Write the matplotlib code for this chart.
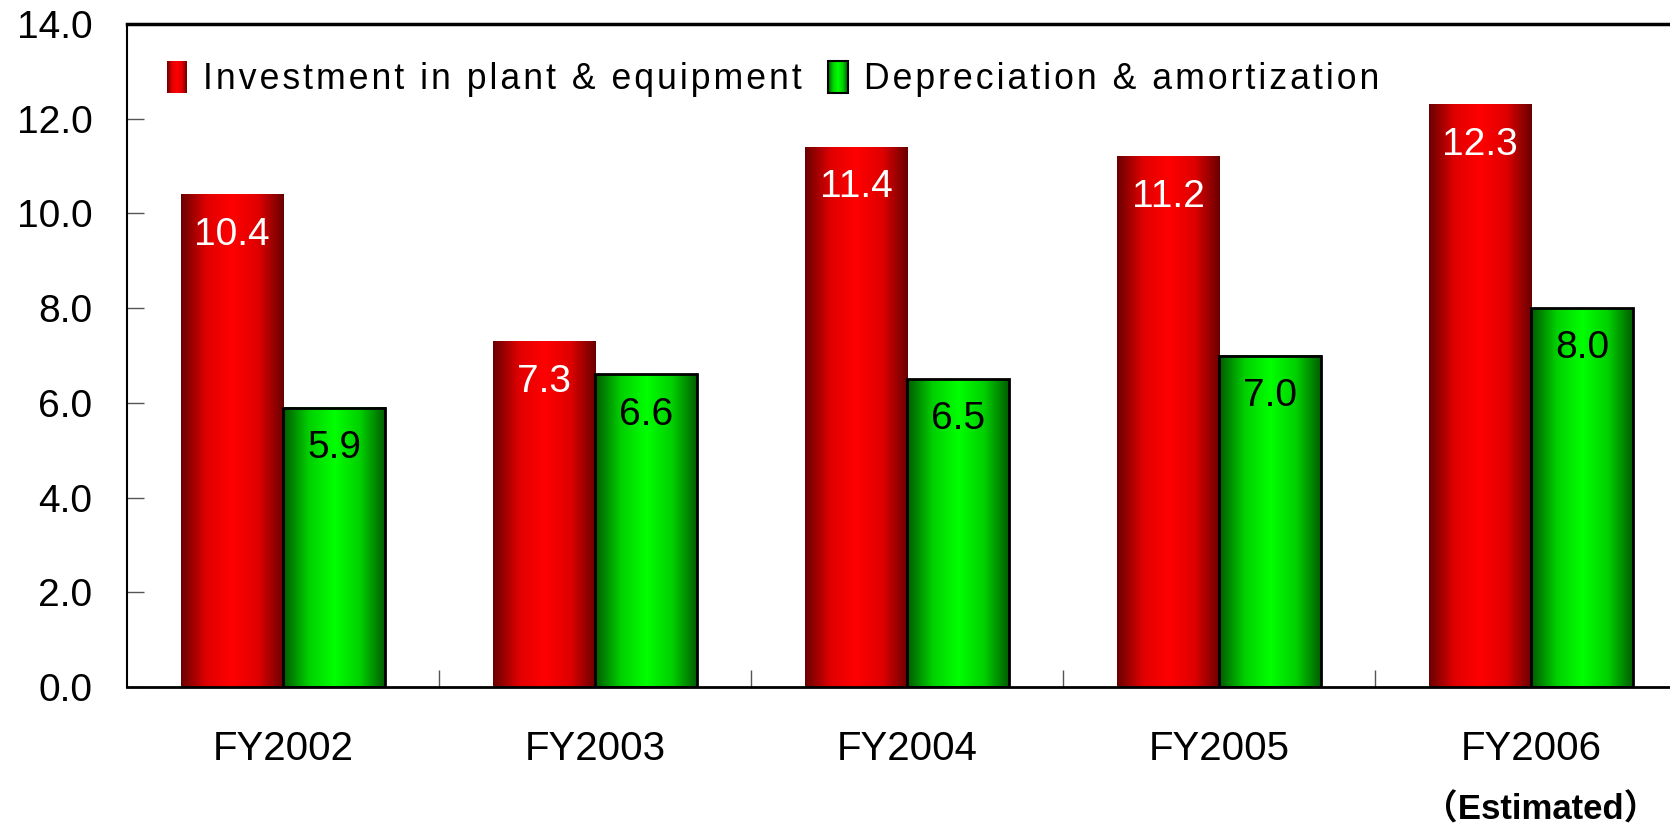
import numpy as np
import matplotlib
matplotlib.use("Agg")
import matplotlib.pyplot as plt
from matplotlib.colors import LinearSegmentedColormap
from matplotlib.legend_handler import HandlerBase
from matplotlib.image import BboxImage
from matplotlib.transforms import Bbox, TransformedBbox
from matplotlib.patches import Rectangle

plt.rcParams['font.family'] = ['Liberation Sans', 'Noto Sans CJK JP', 'DejaVu Sans']

years = ['FY2002', 'FY2003', 'FY2004', 'FY2005', 'FY2006']
invest = [10.4, 7.3, 11.4, 11.2, 12.3]
deprec = [5.9, 6.6, 6.5, 7.0, 8.0]
yticks = [0, 2, 4, 6, 8, 10, 12, 14]
series = ['Investment in plant & equipment', 'Depreciation & amortization']

red_cm = LinearSegmentedColormap.from_list('r', ['#6a0000', '#e00000', '#ff0000', '#e00000', '#6a0000'])
grn_cm = LinearSegmentedColormap.from_list('g', ['#005a00', '#00d000', '#00ff00', '#00d000', '#005a00'])
grad = np.linspace(0, 1, 256).reshape(1, -1)

fig = plt.figure(figsize=(16.7, 8.26), dpi=100)
ax = fig.add_axes([127/1670, 1 - 687/826, (1670 - 127)/1670, (687 - 24)/826])

x = np.arange(len(years))
w = 0.327
bars_r = ax.bar(x - w/2, invest, w, color='none', edgecolor='none', zorder=3)
bars_g = ax.bar(x + w/2, deprec, w, color='none', edgecolor='black', linewidth=2, zorder=4)

for bars, cm in [(bars_r, red_cm), (bars_g, grn_cm)]:
    for b in bars:
        x0, h = b.get_x(), b.get_height()
        ax.imshow(grad, cmap=cm, extent=(x0, x0 + b.get_width(), 0, h),
                  aspect='auto', interpolation='bicubic', zorder=2)

for b, v in zip(bars_r, invest):
    ax.annotate(f'{v:.1f}', (b.get_x() + b.get_width()/2, v), xytext=(0, -29),
                textcoords='offset points', ha='center', va='center',
                color='white', fontsize=28, zorder=5)
for b, v in zip(bars_g, deprec):
    ax.annotate(f'{v:.1f}', (b.get_x() + b.get_width()/2, v), xytext=(0, -29),
                textcoords='offset points', ha='center', va='center',
                color='black', fontsize=28, zorder=5)

ax.set_yticks(yticks)
ax.set_yticklabels([f'{t:.1f}' for t in yticks], fontsize=28)
ax.tick_params(axis='y', direction='in', length=12, width=1, color='#555555', pad=25)
ax.set_xticks(x)
ax.set_xticklabels(years, fontsize=29)
ax.tick_params(axis='x', which='major', length=0, pad=31)
ax.set_xticks(np.arange(len(years)) + 0.5, minor=True)
ax.tick_params(axis='x', which='minor', direction='in', length=12, width=1, color='#555555')
# limits last, so the tick setters don't widen them
ax.set_xlim(-0.5, -0.5 + (1670 - 127)/312)
ax.set_ylim(0, 14)

ax.spines['right'].set_visible(False)
ax.spines['top'].set_linewidth(2.5)
ax.spines['bottom'].set_linewidth(2)
ax.spines['left'].set_linewidth(1.5)

ax.text(4.03, -0.186, '（Estimated）', transform=ax.get_xaxis_transform(),
        ha='center', va='center', fontsize=25, fontweight='bold')


class GradHandler(HandlerBase):
    def __init__(self, cmap, edge):
        super().__init__()
        self.cmap = cmap
        self.edge = edge

    def create_artists(self, legend, orig_handle, xdescent, ydescent,
                       width, height, fontsize, trans):
        bb = Bbox.from_bounds(-xdescent, -ydescent, width, height)
        img = BboxImage(TransformedBbox(bb, trans), cmap=self.cmap, interpolation='bicubic')
        img.set_data(grad)
        arts = [img]
        if self.edge:
            arts.append(Rectangle((-xdescent, -ydescent), width, height, fill=False,
                                  edgecolor='black', linewidth=1.5, transform=trans))
        return arts


# widen the letter spacing like the original legend
spaced = ['\u200a'.join(s) for s in series]
h1 = Rectangle((0, 0), 1, 1)
h2 = Rectangle((0, 0), 1, 1)
ax.legend([h1, h2], spaced,
          handler_map={h1: GradHandler(red_cm, False), h2: GradHandler(grn_cm, True)},
          loc='upper left', bbox_to_anchor=(0.026, 0.944), ncol=2, frameon=False,
          fontsize=25.7, handlelength=0.55, handleheight=1.0, handletextpad=0.45,
          columnspacing=0.75, borderaxespad=0, borderpad=0)

fig.savefig('out.png', dpi=100)
